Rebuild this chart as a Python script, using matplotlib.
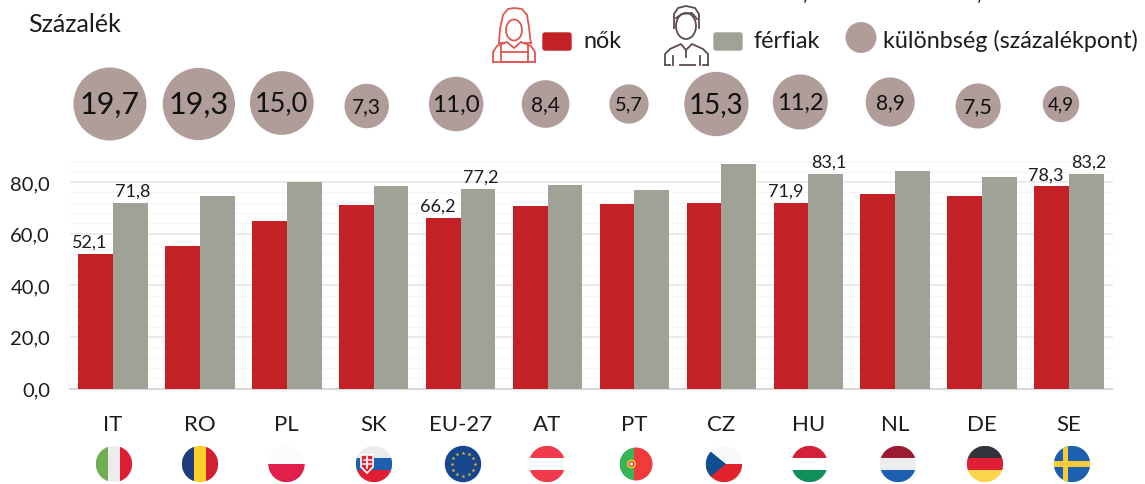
import numpy as np
import matplotlib
matplotlib.use("Agg")
import matplotlib.pyplot as plt
from matplotlib.patches import Circle, Rectangle, Polygon, Ellipse, FancyBboxPatch

plt.rcParams['font.family'] = ['Lato', 'Open Sans', 'DejaVu Sans']

# data
countries = ["IT", "RO", "PL", "SK", "EU-27", "AT", "PT", "CZ", "HU", "NL", "DE", "SE"]
women = [52.1, 55.3, 65.0, 71.0, 66.2, 70.5, 71.5, 72.0, 71.9, 75.5, 74.5, 78.3]
men = [71.8, 74.6, 80.0, 78.3, 77.2, 79.0, 77.0, 86.8, 83.1, 84.4, 82.0, 83.2]
gap = [19.7, 19.3, 15.0, 7.3, 11.0, 8.4, 5.7, 15.3, 11.2, 8.9, 7.5, 4.9]
women_labels = ["52,1", None, None, None, "66,2", None, None, None, "71,9", None, None, "78,3"]
men_labels = ["71,8", None, None, None, "77,2", None, None, None, "83,1", None, None, "83,2"]
yticks = [0, 20, 40, 60, 80]

RED = "#c32126"
GREY = "#9ea297"
BUBBLE = "#b09c99"
TXT = "#1c1c1c"

W, H = 1145, 485
fig = plt.figure(figsize=(W / 100, H / 100), dpi=100)

# main bars, axes placed in pixels
L, R, T, B = 69.5, 1112.5, 162.3, 389.5
ax = fig.add_axes([L / W, 1 - B / H, (R - L) / W, (B - T) / H])
x = np.arange(len(countries))
bw = 0.4
ax.bar(x - bw / 2, women, bw, color=RED, zorder=3)
ax.bar(x + bw / 2, men, bw, color=GREY, zorder=3)
ax.set_xlim(-0.5, 11.5)
ax.set_ylim(0, 88)
ax.set_yticks(yticks, [f"{v:.1f}".replace(".", ",") for v in yticks], fontsize=14.5, color=TXT)
ax.set_yticks(np.arange(0, 89, 4), minor=True)
ax.grid(axis='y', which='minor', color="#f6f6f6", lw=1, zorder=0)
ax.grid(axis='y', which='major', color="#e8e8e8", lw=1.2, zorder=1)
ax.tick_params(axis='y', which='both', length=0, pad=14)
ax.set_xticks(x, countries, fontsize=16, color=TXT)
ax.tick_params(axis='x', length=0, pad=18.5)
for s in ['top', 'right', 'left']:
    ax.spines[s].set_visible(False)
ax.spines['bottom'].set_color("#d9d9d9")
ax.spines['bottom'].set_linewidth(1.5)

for i, (a, b) in enumerate(zip(women_labels, men_labels)):
    if a:
        ax.annotate(a, (i - bw / 2, women[i]), xytext=(-4, 3), textcoords='offset points',
                    ha='center', va='bottom', fontsize=13, color=TXT, zorder=5)
    if b:
        ax.annotate(b, (i + bw / 2, men[i]), xytext=(2, 3), textcoords='offset points',
                    ha='center', va='bottom', fontsize=13, color=TXT, zorder=5)

# difference bubbles, area follows the value
ax_b = fig.add_axes([L / W, 1 - 150 / H, (R - L) / W, 90 / H])
ax_b.set_xlim(-0.5, 11.5)
ax_b.set_ylim(150, 60)
ax_b.axis('off')
nudge_x = np.array([-3, -1, -5, -7, -4.5, -2, -5.5, -5, -8, -5, -4, -8]) / 86.9
row_y = [105, 105, 104, 107, 105, 105, 105, 105, 103, 103, 107, 105]
ax_b.scatter(x + nudge_x, row_y, s=140.3 * np.array(gap), color=BUBBLE, linewidths=0, clip_on=False)
bubble_fs = [22, 22, 19.5, 15, 17.5, 15, 14.5, 20, 17, 15, 15.5, 13.5]
for i, v in enumerate(gap):
    ax_b.text(x[i] + nudge_x[i], row_y[i], f"{v:.1f}".replace(".", ","), ha='center', va='center',
              fontsize=bubble_fs[i], color="#111111")

# overlay in pixel coordinates for flags, legend and icons
ov = fig.add_axes([0, 0, 1, 1])
ov.set_xlim(0, W)
ov.set_ylim(H, 0)
ov.axis('off')
ov.patch.set_alpha(0)


def flag(cx, cy, r, stripes, vertical=False):
    clip = Circle((cx, cy), r, transform=ov.transData)
    n = len(stripes)
    for k, c in enumerate(stripes):
        if vertical:
            p = Rectangle((cx - r + 2 * r * k / n, cy - r), 2 * r / n, 2 * r, color=c, lw=0)
        else:
            p = Rectangle((cx - r, cy - r + 2 * r * k / n), 2 * r, 2 * r / n, color=c, lw=0)
        ov.add_patch(p)
        p.set_clip_path(clip)
    return clip


fy = 465
fr = 18.2
flag(114, fy, fr, ["#6fae55", "#ececec", "#e01f35"], vertical=True)
flag(200, fy, fr, ["#1f3f7c", "#fad02c", "#d3202f"], vertical=True)
flag(286.5, fy, fr, ["#fbfbfb", "#e0204a"])

# Slovakia
c = flag(374, fy, fr, ["#ececec", "#1d5fb0", "#e21f32"])
ov.add_patch(Polygon([(361, 456), (373, 456), (373, 468), (367, 474), (361, 468)], fc="#e21f32", ec="white", lw=1.2))
ov.plot([367, 367], [458, 469], color="white", lw=1.3)
ov.plot([363.5, 370.5], [461, 461], color="white", lw=1.1)
ov.plot([363, 371], [465, 465], color="white", lw=1.1)

# EU
ov.add_patch(Circle((463, fy), fr, fc="#17468f", lw=0))
ang = np.arange(12) * np.pi / 6
ov.scatter(463 + 11.5 * np.cos(ang), fy + 11.5 * np.sin(ang), s=9, marker='*', color="#e0bd2c", linewidths=0)

flag(547, fy, fr, ["#f03a4b", "#ffffff", "#f03a4b"])

# Portugal
pt = Circle((636, fy), 16.5, transform=ov.transData)
for x0, w0, col in [(619.5, 14, "#35b556"), (633.5, 19, "#ef3b3b")]:
    p = Rectangle((x0, fy - 17), w0, 34, color=col, lw=0)
    ov.add_patch(p)
    p.set_clip_path(pt)
ov.add_patch(Circle((631.5, fy), 4.5, fc="#f2c230", lw=0))
ov.add_patch(Circle((631.5, fy), 2.2, fc="white", ec="#d0302f", lw=0.8))

# Czechia
c = flag(724, fy, fr, ["#f8f8f8", "#e1242c"])
p = Polygon([(705, fy - 17), (705, fy + 17), (726, fy)], color="#0f4f8f", lw=0)
ov.add_patch(p)
p.set_clip_path(c)

flag(809.5, fy, fr, ["#d4203a", "#ffffff", "#0f8f5a"])
flag(898, fy, fr, ["#9c1b2e", "#ececec", "#1d5fb0"])
flag(985, fy, fr, ["#31343a", "#e01f35", "#fdd54a"])

# Sweden
c = flag(1072, fy, fr, ["#1d5fb0"])
for rc in [Rectangle((1054, fy - 2.7), 36, 5.4, color="#f6c935", lw=0),
           Rectangle((1063, fy - 18.5), 5.4, 37, color="#f6c935", lw=0)]:
    ov.add_patch(rc)
    rc.set_clip_path(c)

# legend
ov.text(28, 25, "Százalék", fontsize=18, va='center', color=TXT)
ov.add_patch(FancyBboxPatch((543, 34), 28, 17, boxstyle="round,pad=0,rounding_size=2", fc=RED, ec=RED, lw=1))
ov.add_patch(FancyBboxPatch((714, 34), 28, 17, boxstyle="round,pad=0,rounding_size=2", fc=GREY, ec=GREY, lw=1))
ov.add_patch(Ellipse((861, 38.5), 31, 31, fc=BUBBLE, lw=0))
ov.text(583, 41, "nők", fontsize=16.8, va='center', color=TXT)
ov.text(754, 41, "férfiak", fontsize=16.8, va='center', color=TXT)
ov.text(883, 41, "különbség (százalékpont)", fontsize=16.8, va='center', color=TXT)
# bits of cut off text at the top edge of the picture
ov.plot([806, 805], [0, 3], color=TXT, lw=1)
ov.plot([980, 979], [0, 3], color=TXT, lw=1)

# woman icon
wc = "#e2564e"
ov.add_patch(Ellipse((514, 31), 16, 21, fc="none", ec=wc, lw=1.3))
ov.plot([499, 500, 503, 508, 514, 522, 527, 529, 530, 531],
        [44, 30, 16, 10, 9, 10, 16, 28, 38, 44], color=wc, lw=1.3)
ov.plot([499, 504], [44, 44], color=wc, lw=1.3)
ov.plot([525, 531], [44, 44], color=wc, lw=1.3)
ov.plot([493, 493, 497, 507, 514, 521, 531, 535, 535],
        [63, 53, 47, 43, 49, 43, 47, 53, 63], color=wc, lw=1.3)
ov.plot([493, 535], [63, 63], color=wc, lw=1.3)
ov.add_patch(Rectangle((501, 53), 27, 10, fc="none", ec=wc, lw=1.3))
ov.plot([501, 501], [46, 53], color=wc, lw=1.3)
ov.plot([528, 528], [46, 53], color=wc, lw=1.3)

# man icon
mc = "#5b4c4a"
ov.add_patch(Ellipse((686, 27), 20, 26, fc="none", ec=mc, lw=1.3))
ov.plot([674, 674, 678, 686, 695, 699, 699], [29, 15, 9, 7, 9, 15, 29], color=mc, lw=1.3)
ov.plot([676, 682, 692, 697], [19, 15, 14, 20], color=mc, lw=1.3)
ov.plot([665, 665, 670, 681, 686, 692, 703, 708, 708],
        [66, 55, 50, 45, 51, 45, 50, 55, 66], color=mc, lw=1.3)
ov.plot([686, 686], [51, 58], color=mc, lw=1.3)
ov.plot([673, 673], [57, 66], color=mc, lw=1.3)
ov.plot([700, 700], [57, 66], color=mc, lw=1.3)
ov.plot([680, 695], [66, 66], color=mc, lw=1.3)
ov.plot([665, 670], [66, 66], color=mc, lw=1.3)
ov.plot([703, 708], [66, 66], color=mc, lw=1.3)

fig.savefig("out.png", dpi=100)
